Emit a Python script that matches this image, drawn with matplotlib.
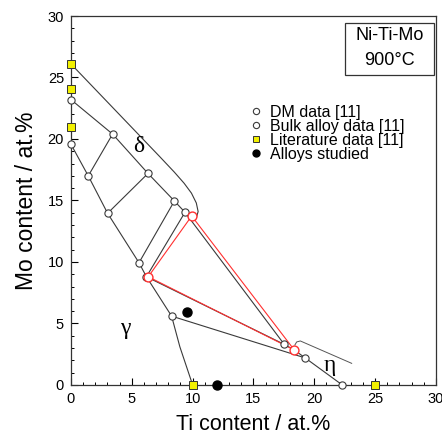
import matplotlib
matplotlib.use("Agg")
import matplotlib.pyplot as plt
from matplotlib.lines import Line2D
from matplotlib.patches import Rectangle

plt.rcParams['font.family'] = ['Liberation Sans', 'DejaVu Sans']

# ---- data (Ti at.%, Mo at.%) ----
gamma_bnd_ti = [0.0, 1.42, 3.01, 5.59, 6.2, 8.27, 8.95, 10.0]
gamma_bnd_mo = [19.57, 17.0, 13.96, 9.94, 8.8, 5.6, 3.1, 0.0]

delta_in_ti = [0.0, 3.42, 6.33, 8.5, 9.37, 9.92]
delta_in_mo = [23.2, 20.4, 17.2, 14.96, 14.04, 13.74]

delta_out_ti = [0.0, 7.3, 8.5, 9.3, 9.9, 10.3, 10.45, 10.3, 9.92]
delta_out_mo = [26.1, 18.56, 17.3, 16.4, 15.6, 14.8, 14.1, 13.6, 13.74]

tie_ti = [[1.42, 3.42], [3.01, 6.33], [5.59, 8.5], [8.27, 19.25]]
tie_mo = [[17.0, 20.4], [13.96, 17.2], [9.94, 14.96], [5.6, 2.2]]

tri_black_ti = [6.2, 9.37, 17.53, 6.2]
tri_black_mo = [8.8, 14.04, 3.3, 8.8]

tri_red_ti = [6.35, 9.92, 18.35, 6.35]
tri_red_mo = [8.8, 13.74, 2.85, 8.8]

eta_bnd_ti = [17.53, 18.35, 19.25, 22.3]
eta_bnd_mo = [3.3, 2.85, 2.2, 0.0]

eta_est_ti = [18.4, 18.55, 18.85, 23.07]
eta_est_mo = [3.25, 3.5, 3.58, 1.76]

dm_ti = [0.0, 0.0, 1.42, 3.42, 3.01, 6.33, 5.59, 8.5, 6.2, 9.37, 17.53]
dm_mo = [23.2, 19.57, 17.0, 20.4, 13.96, 17.2, 9.94, 14.96, 8.8, 14.04, 3.3]

bulk_ti = [8.27, 19.25, 22.3]
bulk_mo = [5.6, 2.2, 0.0]

three_ti = [6.35, 9.92, 18.35]
three_mo = [8.8, 13.74, 2.85]

lit_ti = [0.0, 0.0, 0.0, 10.0, 25.0]
lit_mo = [26.1, 24.1, 21.0, 0.0, 0.0]

alloy_ti = [9.5, 12.0]
alloy_mo = [5.9, 0.0]

xticks = [0, 5, 10, 15, 20, 25, 30]
yticks = [0, 5, 10, 15, 20, 25, 30]

# ---- figure ----
fig = plt.figure(figsize=(4.42, 4.36), dpi=100)
ax = fig.add_axes([0.1606, 0.117, 0.8258, 0.8463])

lc = '#3a3a3a'
lw = 0.8
ax.plot(gamma_bnd_ti, gamma_bnd_mo, color=lc, lw=lw, zorder=2)
ax.plot(delta_in_ti, delta_in_mo, color=lc, lw=lw, zorder=2)
ax.plot(delta_out_ti, delta_out_mo, color=lc, lw=lw, zorder=2)
for tx, ty in zip(tie_ti, tie_mo):
    ax.plot(tx, ty, color=lc, lw=lw, zorder=2)
ax.plot(tri_black_ti, tri_black_mo, color=lc, lw=lw, zorder=2)
ax.plot(eta_bnd_ti, eta_bnd_mo, color=lc, lw=lw, zorder=2)
ax.plot(eta_est_ti, eta_est_mo, color='#555555', lw=0.7, zorder=2)
ax.plot(tri_red_ti, tri_red_mo, color='#ff3030', lw=lw, zorder=3)

ax.plot(dm_ti, dm_mo, 'o', ms=5.2, mfc='white', mec=lc, mew=0.8, ls='none', zorder=4, clip_on=False)
ax.plot(bulk_ti, bulk_mo, 'o', ms=5.2, mfc='white', mec=lc, mew=0.8, ls='none', zorder=4, clip_on=False)
ax.plot(three_ti, three_mo, 'o', ms=6.4, mfc='white', mec='#ff3030', mew=1.0, ls='none', zorder=5, clip_on=False)
ax.plot(lit_ti, lit_mo, 's', ms=5.2, mfc='#f2f000', mec='#333333', mew=0.7, ls='none', zorder=5, clip_on=False)
ax.plot(alloy_ti, alloy_mo, 'o', ms=6.5, mfc='black', mec='black', ls='none', zorder=5, clip_on=False)

# phase labels
gfont = dict(family=['Liberation Serif', 'DejaVu Serif'], fontsize=17, ha='center', va='center')
ax.text(5.6, 19.4, 'δ', **gfont)
ax.text(4.45, 4.6, 'γ', **gfont)
ax.text(21.3, 1.55, 'η', **gfont)

# system box
ax.add_patch(Rectangle((22.5, 25.2), 7.33, 4.23, fill=False, ec='#333333', lw=0.9, zorder=6))
ax.text(26.17, 28.4, 'Ni-Ti-Mo', fontsize=13, ha='center', va='center', zorder=7)
ax.text(26.17, 26.35, '900°C', fontsize=13, ha='center', va='center', zorder=7)

# legend
handles = [
    Line2D([], [], marker='o', ls='none', ms=4.5, mfc='white', mec=lc, mew=0.8),
    Line2D([], [], marker='o', ls='none', ms=4.5, mfc='white', mec=lc, mew=0.8),
    Line2D([], [], marker='s', ls='none', ms=4.5, mfc='#f2f000', mec='#333333', mew=0.7),
    Line2D([], [], marker='o', ls='none', ms=5, mfc='black', mec='black'),
]
labels = ['DM data [11]', 'Bulk alloy data [11]', 'Literature data [11]', 'Alloys studied']
ax.legend(handles, labels, loc='upper left', bbox_to_anchor=(0.49, 0.759), frameon=False,
          fontsize=11.5, handlelength=0.8, handletextpad=0.45, labelspacing=-0.06,
          borderpad=0.0, borderaxespad=0.0)

ax.set_xlim(0, 30)
ax.set_ylim(0, 30)
ax.set_xticks(xticks)
ax.set_yticks(yticks)
ax.set_xticks(range(0, 31), minor=True)
ax.set_yticks(range(0, 31), minor=True)
ax.tick_params(which='major', direction='in', length=5, width=0.8, labelsize=10.5, pad=5)
ax.tick_params(which='minor', direction='in', length=2.5, width=0.7)
ax.tick_params(top=False, right=False)
for s in ax.spines.values():
    s.set_linewidth(0.9)
    s.set_color('#333333')

ax.set_xlabel('Ti content / at.%', fontsize=15.5, labelpad=6)
ax.set_ylabel('Mo content / at.%', fontsize=16.5, labelpad=7)

fig.savefig('out.png', dpi=100)
